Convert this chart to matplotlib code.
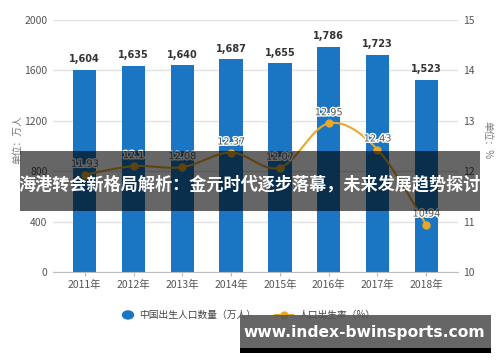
import matplotlib
matplotlib.use("Agg")
from matplotlib import pyplot as plt
from matplotlib.patches import Rectangle
import matplotlib.patheffects as pe
import numpy as np

plt.rcParams['font.family'] = ['Noto Sans CJK SC', 'DejaVu Sans']

years = ['2011年', '2012年', '2013年', '2014年', '2015年', '2016年', '2017年', '2018年']
births = [1604, 1635, 1640, 1687, 1655, 1786, 1723, 1523]
rate = [11.93, 12.1, 12.08, 12.37, 12.07, 12.95, 12.43, 10.94]

bar_color = '#1a76c2'
line_color = '#e8a82a'
grid_color = '#e3e3e3'
tick_color = '#555555'

fig = plt.figure(figsize=(5, 3.62), dpi=100)
ax = fig.add_axes([0.106, 0.2486, 0.81, 0.6962])
ax2 = ax.twinx()

x = np.arange(len(years))
ax.bar(x, births, width=0.48, color=bar_color, zorder=2)
for xi, v in zip(x, births):
    ax.text(xi, v + 45, f'{v:,}', ha='center', va='bottom', fontsize=7,
            fontweight='bold', color='#333333', family=['DejaVu Sans'], zorder=5)

ax.set_xlim(-0.65, 7.65)
ax.set_ylim(0, 2000)
ax.set_yticks([0, 400, 800, 1200, 1600, 2000])
ax.set_xticks(x)
ax.set_xticklabels(years)
ax.grid(axis='y', color=grid_color, linewidth=1, zorder=0)
ax.set_axisbelow(True)
for s in ['top', 'left', 'right']:
    ax.spines[s].set_visible(False)
    ax2.spines[s].set_visible(False)
ax2.spines['bottom'].set_visible(False)
ax.spines['bottom'].set_color('#bbbbbb')
ax.tick_params(axis='y', length=0, labelsize=7.5, labelcolor=tick_color, pad=4)
ax.tick_params(axis='x', length=3, color='#bbbbbb', labelsize=7.5, labelcolor=tick_color, pad=3)

# smooth curve through the rate points (Catmull-Rom)
px = x.astype(float)
py = np.array(rate)
cx, cy = [], []
for i in range(len(px) - 1):
    p0 = max(i - 1, 0); p3 = min(i + 2, len(px) - 1)
    t = np.linspace(0, 1, 20)
    for arr, out in ((px, cx), (py, cy)):
        a0, a1, a2, a3 = arr[p0], arr[i], arr[i + 1], arr[p3]
        out.extend(0.5 * ((2 * a1) + (-a0 + a2) * t + (2 * a0 - 5 * a1 + 4 * a2 - a3) * t ** 2
                          + (-a0 + 3 * a1 - 3 * a2 + a3) * t ** 3))
ax2.plot(cx, cy, color=line_color, linewidth=1.5, zorder=3)
ax2.plot(px, py, 'o', color=line_color, markersize=5, zorder=4)
for xi, v in zip(px, rate):
    ax2.text(xi, v + 0.12, f'{v:g}', ha='center', va='bottom', fontsize=7,
             color='#555555', family=['DejaVu Sans'], zorder=5,
             path_effects=[pe.withStroke(linewidth=2, foreground='white')])
ax2.set_ylim(10, 15)
ax2.set_yticks([10, 11, 12, 13, 14, 15])
ax2.tick_params(axis='y', length=0, labelsize=7.5, labelcolor=tick_color, pad=4)

fig.text(0.034, 0.613, '单位：万人', rotation=90, ha='center', va='center', fontsize=7, color='#777777')
fig.text(0.974, 0.613, '单位：%', rotation=270, ha='center', va='center', fontsize=7, color='#777777')

# legend
fig.patches.append(plt.Circle((0.256, 0.13), 0.011, transform=fig.transFigure, color=bar_color,
                              figure=fig))
fig.text(0.278, 0.13, '中国出生人口数量（万人）', ha='left', va='center', fontsize=7, color='#444444')
fig.lines.append(plt.Line2D([0.55, 0.586], [0.13, 0.13], transform=fig.transFigure, color=line_color,
                            linewidth=1.5, figure=fig))
fig.lines.append(plt.Line2D([0.568], [0.13], transform=fig.transFigure, marker='o', color=line_color,
                            markersize=5, figure=fig))
fig.text(0.598, 0.13, '人口出生率（%）', ha='left', va='center', fontsize=7, color='#444444')

# title banner
fig.patches.append(Rectangle((0.04, 1 - 211 / 362), 0.92, 60 / 362, transform=fig.transFigure,
                             facecolor='black', alpha=0.6, zorder=10, figure=fig))
fig.text(0.5, 1 - 184 / 362, '海港转会新格局解析：金元时代逐步落幕，未来发展趋势探讨', ha='center', va='center',
         fontsize=12.3, fontweight='bold', color='white', zorder=11)

# bottom watermark banner
fig.patches.append(Rectangle((0.48, 1 - 353 / 362), 0.502, 5 / 362, transform=fig.transFigure,
                             facecolor='black', zorder=10, figure=fig))
fig.patches.append(Rectangle((0.48, 1 - 348 / 362), 0.502, 33 / 362, transform=fig.transFigure,
                             facecolor='#555555', alpha=0.9, zorder=10, figure=fig))
fig.text(0.729, 1 - 332 / 362, 'www.index-bwinsports.com', ha='center', va='center',
         fontsize=11.2, fontweight='bold', color='white', family=['DejaVu Sans'], zorder=11)

fig.savefig('out.png', dpi=100)
